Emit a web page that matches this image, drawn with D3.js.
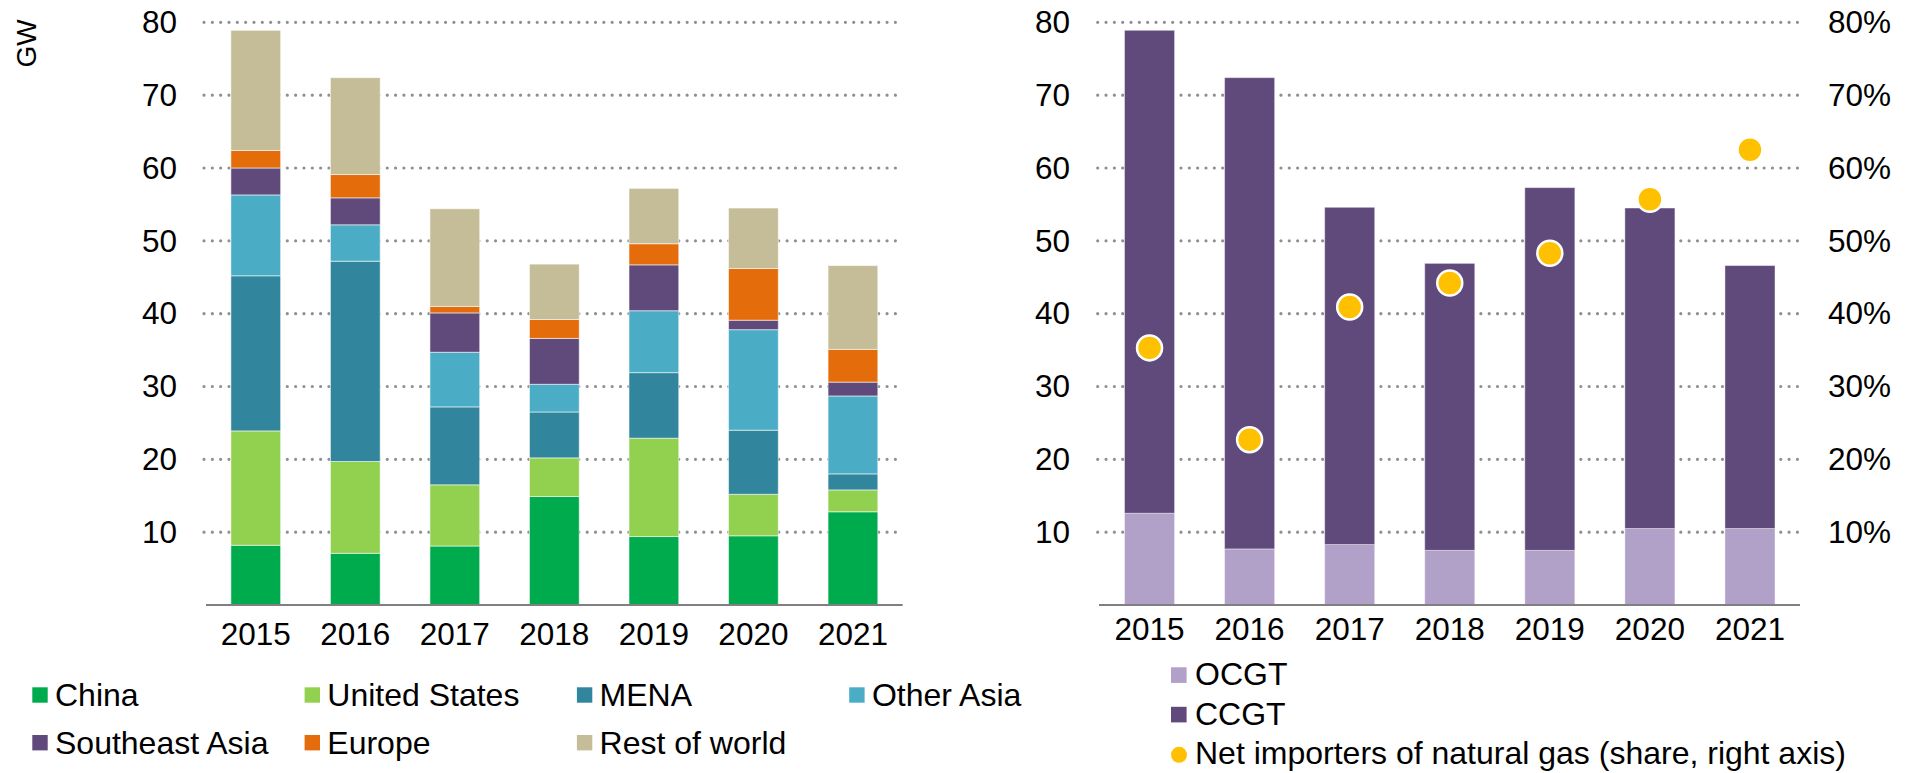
<!DOCTYPE html>
<html>
<head>
<meta charset="utf-8">
<script src="https://cdn.jsdelivr.net/npm/d3@7/dist/d3.min.js"></script>
<style>
  body { margin: 0; background: #fff; }
  svg text { font-family: Arial, "Liberation Sans", sans-serif; fill: #000; }
</style>
</head>
<body>
<svg id="chart" width="1916" height="773"></svg>
<script>
// data
var years = ["2015", "2016", "2017", "2018", "2019", "2020", "2021"];

var regions = ["China", "United States", "MENA", "Other Asia", "Southeast Asia", "Europe", "Rest of world"];
var regionColors = ["#00AB4E", "#92D050", "#31859C", "#4BACC6", "#604A7B", "#E46C0A", "#C4BD97"];

var china        = [8.2, 7.1, 8.1, 14.9, 9.4, 9.5, 12.8];
var unitedStates = [15.7, 12.6, 8.4, 5.3, 13.5, 5.7, 3.0];
var mena         = [21.3, 27.5, 10.7, 6.3, 9.0, 8.8, 2.2];
var otherAsia    = [11.1, 5.0, 7.5, 3.8, 8.5, 13.8, 10.7];
var southeastAsia = [3.7, 3.7, 5.4, 6.3, 6.3, 1.3, 1.9];
var europe       = [2.4, 3.2, 0.9, 2.6, 2.9, 7.1, 4.5];
var restOfWorld  = [16.5, 13.3, 13.4, 7.6, 7.6, 8.3, 11.5];

var ocgt = [12.6, 7.7, 8.3, 7.5, 7.5, 10.5, 10.5];
var ccgt = [66.3, 64.7, 46.3, 39.4, 49.8, 44.0, 36.1];
var netImporterShare = [0.353, 0.227, 0.409, 0.442, 0.483, 0.557, 0.625];

var yTicks = [10, 20, 30, 40, 50, 60, 70, 80];
var yTicksRight = [0.1, 0.2, 0.3, 0.4, 0.5, 0.6, 0.7, 0.8];

var svg = d3.select("#chart");
var fontSize = 31.5;
var legendFontSize = 32;

var y = d3.scaleLinear().domain([0, 80]).range([605, 22.3]);
var yRight = d3.scaleLinear().domain([0, 0.8]).range([605, 22.3]);

var xLeft = d3.scaleBand().domain(years).range([206, 902.7]).paddingInner(0.5).paddingOuter(0.25);
var xRight = d3.scaleBand().domain(years).range([1099.5, 1800]).paddingInner(0.5).paddingOuter(0.25);

function drawGrid(g, x0, x1) {
    g.selectAll(".grid")
        .data(yTicks)
        .enter()
        .append("line")
        .attr("x1", x0)
        .attr("x2", x1)
        .attr("y1", function(d) { return y(d); })
        .attr("y2", function(d) { return y(d); })
        .style("stroke", "#8f8f8f")
        .style("stroke-width", 3.2)
        .style("stroke-linecap", "round")
        .style("stroke-dasharray", "0 8.33");
}

function drawYLabels(g, ticks, scale, xPos, anchor, fmt) {
    g.selectAll(".ylab")
        .data(ticks)
        .enter()
        .append("text")
        .attr("x", xPos)
        .attr("y", function(d) { return scale(d) + 10.8; })
        .attr("text-anchor", anchor)
        .style("font-size", fontSize + "px")
        .text(fmt);
}

function drawXLabels(g, x, baseline) {
    g.selectAll(".xlab")
        .data(years)
        .enter()
        .append("text")
        .attr("x", function(d) { return x(d) + x.bandwidth() / 2; })
        .attr("y", baseline)
        .attr("text-anchor", "middle")
        .style("font-size", fontSize + "px")
        .text(function(d) { return d; });
}

// ---------- left chart: by region ----------
var left = svg.append("g");
drawGrid(left, 204, 898);

var regionRows = years.map(function(yr, i) {
    return {
        year: yr,
        "China": china[i],
        "United States": unitedStates[i],
        "MENA": mena[i],
        "Other Asia": otherAsia[i],
        "Southeast Asia": southeastAsia[i],
        "Europe": europe[i],
        "Rest of world": restOfWorld[i]
    };
});
var regionStack = d3.stack().keys(regions)(regionRows);
var regionColor = d3.scaleOrdinal().domain(regions).range(regionColors);

left.selectAll(".layer")
    .data(regionStack)
    .enter()
    .append("g")
    .style("fill", function(d) { return regionColor(d.key); })
    .selectAll("rect")
    .data(function(d) { return d; })
    .enter()
    .append("rect")
    .attr("x", function(d) { return xLeft(d.data.year); })
    .attr("width", xLeft.bandwidth())
    .attr("y", function(d) { return y(d[1]); })
    .attr("height", function(d) { return y(d[0]) - y(d[1]); })
    .style("stroke", "#fff")
    .style("stroke-opacity", 0.55)
    .style("stroke-width", 1);

left.append("line")
    .attr("x1", 206).attr("x2", 902.7)
    .attr("y1", y(0)).attr("y2", y(0))
    .style("stroke", "#808080")
    .style("stroke-width", 2);

drawYLabels(left, yTicks, y, 177, "end", function(d) { return d; });
drawXLabels(left, xLeft, 645);

left.append("text")
    .attr("transform", "translate(36,43.5) rotate(-90)")
    .attr("text-anchor", "middle")
    .style("font-size", "28px")
    .text("GW");

// legend
var legLeft = left.selectAll(".leg")
    .data(regions)
    .enter()
    .append("g")
    .attr("transform", function(d, i) {
        var col = i < 4 ? i : i - 4;
        var row = i < 4 ? 0 : 1;
        return "translate(" + (32.3 + col * 272.3) + "," + (687.3 + row * 47.7) + ")";
    });
legLeft.append("rect")
    .attr("width", 15.4)
    .attr("height", 15.4)
    .style("fill", function(d) { return regionColor(d); });
legLeft.append("text")
    .attr("x", 22.7)
    .attr("y", 18.9)
    .style("font-size", legendFontSize + "px")
    .text(function(d) { return d; });

// ---------- right chart: by technology ----------
var right = svg.append("g");
drawGrid(right, 1097.7, 1800);

var techKeys = ["OCGT", "CCGT"];
var techColor = d3.scaleOrdinal().domain(techKeys).range(["#B1A0C7", "#604A7B"]);
var techRows = years.map(function(yr, i) {
    return { year: yr, OCGT: ocgt[i], CCGT: ccgt[i] };
});
var techStack = d3.stack().keys(techKeys)(techRows);

right.selectAll(".layer")
    .data(techStack)
    .enter()
    .append("g")
    .style("fill", function(d) { return techColor(d.key); })
    .selectAll("rect")
    .data(function(d) { return d; })
    .enter()
    .append("rect")
    .attr("x", function(d) { return xRight(d.data.year); })
    .attr("width", xRight.bandwidth())
    .attr("y", function(d) { return y(d[1]); })
    .attr("height", function(d) { return y(d[0]) - y(d[1]); })
    .style("stroke", "#fff")
    .style("stroke-opacity", 0.4)
    .style("stroke-width", 1);

right.append("line")
    .attr("x1", 1099).attr("x2", 1800)
    .attr("y1", y(0)).attr("y2", y(0))
    .style("stroke", "#808080")
    .style("stroke-width", 2);

right.selectAll(".dot")
    .data(netImporterShare)
    .enter()
    .append("circle")
    .attr("cx", function(d, i) { return xRight(years[i]) + xRight.bandwidth() / 2; })
    .attr("cy", function(d) { return yRight(d); })
    .attr("r", 12.5)
    .style("fill", "#FFC000")
    .style("stroke", "#fff")
    .style("stroke-width", 2.5);

drawYLabels(right, yTicks, y, 1070, "end", function(d) { return d; });
drawYLabels(right, yTicksRight, yRight, 1828, "start", d3.format(".0%"));
drawXLabels(right, xRight, 640);

var legRightItems = [
    { label: "OCGT", type: "rect", color: techColor("OCGT") },
    { label: "CCGT", type: "rect", color: techColor("CCGT") },
    { label: "Net importers of natural gas (share, right axis)", type: "dot", color: "#FFC000" }
];
var legRight = right.selectAll(".leg")
    .data(legRightItems)
    .enter()
    .append("g")
    .attr("transform", function(d, i) { return "translate(1171," + (667.3 + i * 39.5) + ")"; });
legRight.filter(function(d) { return d.type === "rect"; })
    .append("rect")
    .attr("width", 15.6)
    .attr("height", 15.6)
    .style("fill", function(d) { return d.color; });
legRight.filter(function(d) { return d.type === "dot"; })
    .append("circle")
    .attr("cx", 8)
    .attr("cy", 8.5)
    .attr("r", 8)
    .style("fill", function(d) { return d.color; });
legRight.append("text")
    .attr("x", 24)
    .attr("y", 18)
    .style("font-size", legendFontSize + "px")
    .text(function(d) { return d.label; });
</script>
</body>
</html>
